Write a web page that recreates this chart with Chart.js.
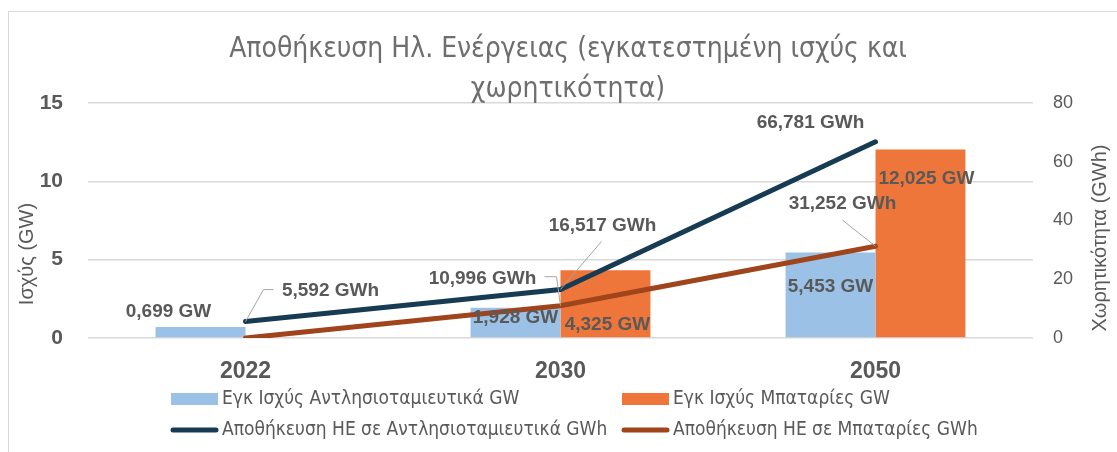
<!DOCTYPE html>
<html>
<head>
<meta charset="utf-8">
<script src="https://cdn.jsdelivr.net/npm/chart.js@4.4.1/dist/chart.umd.min.js"></script>
<style>
  html, body { margin: 0; padding: 0; background: #fff; overflow: hidden; }
  #wrap { position: relative; width: 1117px; height: 452px; }
  #frame { position: absolute; left: 8px; top: 11px; width: 1200px; height: 500px; border: 1.5px solid #d9d9d9; }
  canvas { position: absolute; left: 0; top: 0; }
</style>
</head>
<body>
<div id="wrap">
  <div id="frame"></div>
  <canvas id="grafico" width="1117" height="452"></canvas>
</div>
<script>
// δεδομένα
const years = ['2022', '2030', '2050'];
const pumpedGW = [0.699, 1.928, 5.453];
const batteryGW = [0, 4.325, 12.025];
const pumpedGWh = [5.592, 16.517, 66.781];
const batteryGWh = [0, 10.996, 31.252];
const leftTicks = [0, 5, 10, 15];
const rightTicks = [0, 20, 40, 60, 80];

const titleLines = ['Αποθήκευση Ηλ. Ενέργειας (εγκατεστημένη ισχύς και', 'χωρητικότητα)'];
const leftTitle = 'Ισχύς (GW)';
const rightTitle = 'Χωρητικότητα (GWh)';

const grey = '#595959';
const narrow = "'Liberation Sans Narrow', 'DejaVu Sans Condensed', 'Liberation Sans', sans-serif";
const sans = "'Liberation Sans', Arial, sans-serif";

// θέση ετικετών ως προς το σημείο / την κορυφή της μπάρας
const labelPlacement = [
  [{dx: -32, dy: -15}, {dx: 0, dy: 10}, {dx: 0, dy: 34}],
  [null, {dx: 2, dy: 55}, {dx: 6, dy: 29}],
  [{dx: 85, dy: -31, leader: [[18, -32], [28, -32]]}, {dx: 42, dy: -64, leader: [[41, -48]]}, {dx: -65, dy: -19}],
  [null, {dx: -78, dy: -27, leader: [[-4, -29], [-16, -29]]}, {dx: -33, dy: -42, leader: [[-33, -26]]}]
];

function fmt(v, unit) {
  return v.toFixed(3).replace('.', ',') + ' ' + unit;
}

const extras = {
  id: 'extras',
  afterDatasetsDraw(chart) {
    const c = chart.ctx;
    chart.data.datasets.forEach((ds, i) => {
      const meta = chart.getDatasetMeta(i);
      meta.data.forEach((el, j) => {
        const p = labelPlacement[i][j];
        if (!p || !ds.data[j]) return;
        if (p.leader) {
          c.save();
          c.strokeStyle = '#a6a6a6';
          c.lineWidth = 1;
          c.beginPath();
          c.moveTo(el.x, el.y);
          p.leader.forEach(q => c.lineTo(el.x + q[0], el.y + q[1]));
          c.stroke();
          c.restore();
        }
        c.save();
        c.font = 'bold 19px ' + sans;
        c.fillStyle = grey;
        c.textAlign = 'center';
        c.textBaseline = 'middle';
        c.fillText(fmt(ds.data[j], ds.unit), el.x + p.dx, el.y + p.dy);
        c.restore();
      });
    });
  },
  afterDraw(chart) {
    const c = chart.ctx;
    c.save();
    // τίτλος
    c.fillStyle = '#6e6e6e';
    c.font = '28px ' + narrow;
    c.textAlign = 'center';
    c.textBaseline = 'middle';
    c.fillText(titleLines[0], 568, 50);
    c.fillText(titleLines[1], 568, 90);
    // τίτλοι αξόνων
    c.fillStyle = grey;
    c.font = '20px ' + sans;
    c.save();
    c.translate(27, 254);
    c.rotate(-Math.PI / 2);
    c.fillText(leftTitle, 0, 0);
    c.restore();
    c.save();
    c.translate(1100, 238);
    c.rotate(-Math.PI / 2);
    c.fillText(rightTitle, 0, 0);
    c.restore();
    // υπόμνημα
    const cols = [171, 622], rows = [399, 430];
    c.font = '19px ' + narrow;
    c.textAlign = 'left';
    chart.data.datasets.forEach((ds, i) => {
      const x = cols[i % 2], y = rows[Math.floor(i / 2)];
      if (ds.type === 'line') {
        c.strokeStyle = ds.borderColor;
        c.lineWidth = 5;
        c.lineCap = 'round';
        c.beginPath();
        c.moveTo(x + 2, y);
        c.lineTo(x + 45, y);
        c.stroke();
      } else {
        c.fillStyle = ds.backgroundColor;
        c.fillRect(x, y - 6, 47, 12);
      }
      c.fillStyle = grey;
      c.fillText(ds.label, x + 51, y);
    });
    c.restore();
  }
};

const ctx = document.getElementById('grafico').getContext('2d');

const chart = new Chart(ctx, {
  data: {
    labels: years,
    datasets: [
      {
        type: 'bar',
        label: 'Εγκ Ισχύς Αντλησιοταμιευτικά GW',
        unit: 'GW',
        data: pumpedGW,
        backgroundColor: '#9bc2e6',
        yAxisID: 'y',
        order: 2
      },
      {
        type: 'bar',
        label: 'Εγκ Ισχύς Μπαταρίες GW',
        unit: 'GW',
        data: batteryGW,
        backgroundColor: '#ef763a',
        yAxisID: 'y',
        order: 2
      },
      {
        type: 'line',
        label: 'Αποθήκευση ΗΕ σε Αντλησιοταμιευτικά GWh',
        unit: 'GWh',
        data: pumpedGWh,
        borderColor: '#163b52',
        backgroundColor: '#163b52',
        borderWidth: 5,
        borderCapStyle: 'round',
        pointRadius: 0,
        tension: 0,
        yAxisID: 'y1',
        order: 1
      },
      {
        type: 'line',
        label: 'Αποθήκευση ΗΕ σε Μπαταρίες GWh',
        unit: 'GWh',
        data: batteryGWh,
        borderColor: '#a0441c',
        backgroundColor: '#a0441c',
        borderWidth: 5,
        borderCapStyle: 'round',
        pointRadius: 0,
        tension: 0,
        yAxisID: 'y1',
        order: 1
      }
    ]
  },
  options: {
    responsive: false,
    animation: false,
    layout: { padding: { top: 103, left: 0, right: 0, bottom: 64 } },
    datasets: { bar: { barPercentage: 1, categoryPercentage: 0.571 } },
    plugins: {
      legend: { display: false },
      title: { display: false },
      tooltip: { enabled: false }
    },
    scales: {
      x: {
        grid: { display: false },
        border: { display: false },
        afterFit: s => { s.height = 50; },
        ticks: { color: grey, padding: 12, font: { family: sans, size: 23, weight: 'bold' } }
      },
      y: {
        position: 'left',
        min: 0,
        max: 15,
        afterFit: s => { s.width = 88; },
        afterBuildTicks: s => { s.ticks = leftTicks.map(v => ({ value: v })); },
        grid: { color: '#d9d9d9', lineWidth: 1.5, drawTicks: false },
        border: { display: false },
        ticks: { color: grey, padding: 25, font: { family: sans, size: 21, weight: 'bold' } }
      },
      y1: {
        position: 'right',
        min: 0,
        max: 80,
        afterFit: s => { s.width = 84; },
        afterBuildTicks: s => { s.ticks = rightTicks.map(v => ({ value: v })); },
        grid: { drawOnChartArea: false, drawTicks: false },
        border: { display: false },
        ticks: { color: grey, padding: 20, font: { family: sans, size: 18 } }
      }
    }
  },
  plugins: [extras]
});
</script>
</body>
</html>
